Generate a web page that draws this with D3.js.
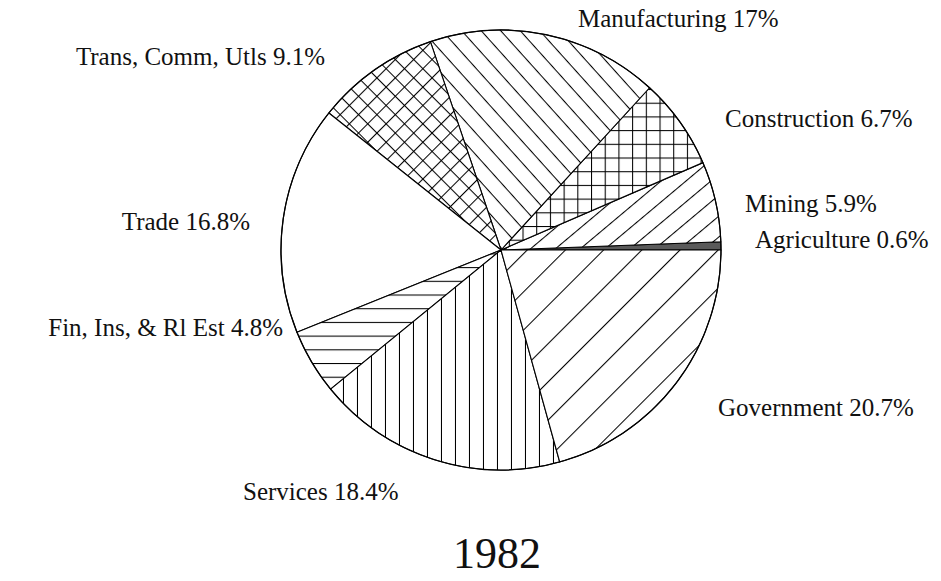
<!DOCTYPE html>
<html>
<head>
<meta charset="utf-8">
<script src="https://cdn.jsdelivr.net/npm/d3@7"></script>
<style>
  body { margin: 0; background: #fff; }
  svg { display: block; }
  text { font-family: "Liberation Serif", "Times New Roman", serif; fill: #111; }
</style>
</head>
<body>
<div id="chart"></div>
<script>
	// sectors, going round counter-clockwise from 3 o'clock
	var sectors = ["Agriculture", "Mining", "Construction", "Manufacturing",
		"Trans, Comm, Utls", "Trade", "Fin, Ins, & Rl Est", "Services", "Government"];
	var shares = [0.6, 5.9, 6.7, 17, 9.1, 16.8, 4.8, 18.4, 20.7];
	var year = "1982";

	// one fill pattern per sector
	var fills = ["url(#p_solid)", "url(#p_mining)", "url(#p_grid)", "url(#p_back)",
		"url(#p_cross)", "#fff", "url(#p_horiz)", "url(#p_vert)", "url(#p_gov)"];

	// where each label sits (x, baseline, anchor)
	var labelAt = [
		[755, 248, "start"], [745, 212, "start"], [725, 127, "start"], [578, 27, "start"],
		[325, 65, "end"], [250, 230, "end"], [283, 336, "end"], [243, 500, "start"], [718, 416, "start"]
	];

	var width = 941, height = 581;
	var cx = 501, cy = 250, radius = 220;

	var svg = d3.select("#chart").append("svg")
		.attr("width", width)
		.attr("height", height);

	var defs = svg.append("defs");

	// hatch = horizontal lines, turned by angle
	function hatch(id, gap, angle, grid) {
		var p = defs.append("pattern")
			.attr("id", id)
			.attr("patternUnits", "userSpaceOnUse")
			.attr("width", gap)
			.attr("height", gap)
			.attr("patternTransform", "translate(" + cx + "," + cy + ") rotate(" + angle + ")");
		p.append("rect").attr("width", gap).attr("height", gap).attr("fill", "#fff");
		p.append("line")
			.attr("x1", 0).attr("y1", 0.5).attr("x2", gap).attr("y2", 0.5)
			.attr("stroke", "#000").attr("stroke-width", 1.1);
		if (grid) {
			p.append("line")
				.attr("x1", 0.5).attr("y1", 0).attr("x2", 0.5).attr("y2", gap)
				.attr("stroke", "#000").attr("stroke-width", 1.1);
		}
	}

	hatch("p_mining", 16, -40, false);
	hatch("p_grid", 13.7, 0, true);
	hatch("p_back", 14.5, 48, false);
	hatch("p_cross", 13, 45, true);
	hatch("p_horiz", 13.7, 0, false);
	hatch("p_vert", 14, 90, false);
	hatch("p_gov", 27, -45, false);

	defs.append("pattern")
		.attr("id", "p_solid")
		.attr("patternUnits", "userSpaceOnUse")
		.attr("width", 4).attr("height", 4)
		.append("rect").attr("width", 4).attr("height", 4).attr("fill", "#5a5a5a");

	// counter-clockwise from 3 o'clock
	var pie = d3.pie()
		.sort(null)
		.value(function(d) { return d; })
		.startAngle(Math.PI / 2)
		.endAngle(Math.PI / 2 - 2 * Math.PI);

	var arc = d3.arc()
		.innerRadius(0)
		.outerRadius(radius);

	var g = svg.append("g")
		.attr("transform", "translate(" + cx + "," + cy + ")");

	g.selectAll("path.slice")
		.data(pie(shares))
		.enter()
		.append("path")
		.attr("class", "slice")
		.attr("d", arc)
		.attr("fill", function(d, i) { return fills[i]; })
		.attr("stroke", "#000")
		.attr("stroke-width", 1.1)
		.attr("stroke-linejoin", "round");

	g.append("circle")
		.attr("r", radius)
		.attr("fill", "none")
		.attr("stroke", "#000")
		.attr("stroke-width", 1.2);

	svg.selectAll("text.lbl")
		.data(sectors)
		.enter()
		.append("text")
		.attr("class", "lbl")
		.attr("x", function(d, i) { return labelAt[i][0]; })
		.attr("y", function(d, i) { return labelAt[i][1]; })
		.attr("text-anchor", function(d, i) { return labelAt[i][2]; })
		.attr("font-size", 25)
		.text(function(d, i) { return d + " " + shares[i] + "%"; });

	svg.append("text")
		.attr("x", 497)
		.attr("y", 568)
		.attr("text-anchor", "middle")
		.attr("font-size", 44)
		.text(year);
</script>
</body>
</html>
